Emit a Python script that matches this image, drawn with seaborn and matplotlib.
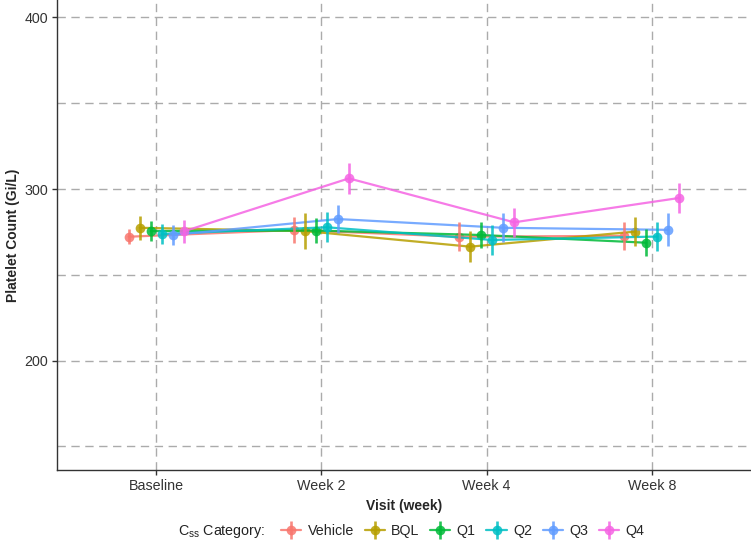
import numpy as np
import pandas as pd
import matplotlib.pyplot as plt
import seaborn as sns
from matplotlib.lines import Line2D

# data
visits = ["Baseline", "Week 2", "Week 4", "Week 8"]
groups = ["Vehicle", "BQL", "Q1", "Q2", "Q3", "Q4"]

vehicle_mean = [272.2, 276.1, 272.2, 272.7]
bql_mean = [277.4, 275.5, 266.4, 275.2]
q1_mean = [275.5, 275.8, 273.2, 268.7]
q2_mean = [273.8, 277.7, 270.3, 272.3]
q3_mean = [273.2, 282.5, 277.4, 276.2]
q4_mean = [275.3, 306.2, 280.6, 294.8]

vehicle_err = [4.5, 7.8, 8.3, 8.3]
bql_err = [7.0, 10.7, 9.0, 8.7]
q1_err = [5.8, 7.3, 7.4, 7.8]
q2_err = [5.8, 8.7, 8.7, 8.4]
q3_err = [6.0, 8.3, 8.5, 9.7]
q4_err = [6.6, 8.9, 8.3, 9.0]

means = [vehicle_mean, bql_mean, q1_mean, q2_mean, q3_mean, q4_mean]
errs = [vehicle_err, bql_err, q1_err, q2_err, q3_err, q4_err]

colors = ["#F8766D", "#B79F00", "#00BA38", "#00BFC4", "#619CFF", "#F564E3"]

rows = []
for g, m, e in zip(groups, means, errs):
    for v, mv, ev in zip(visits, m, e):
        rows.append({"visit": v, "group": g, "count": mv, "err": ev})
df = pd.DataFrame(rows)

sns.set_theme(style="white")
plt.rcParams['font.family'] = ['Liberation Sans', 'DejaVu Sans']
plt.rcParams['mathtext.fontset'] = 'custom'
plt.rcParams['mathtext.rm'] = 'Liberation Sans'

fig = plt.figure(figsize=(7.51, 5.44), dpi=100)
ax = fig.add_axes([57 / 751, 1 - 470 / 544, (751 - 57) / 751, 470 / 544])

sns.pointplot(data=df, x="visit", y="count", hue="group", order=visits,
              hue_order=groups, palette=colors, dodge=0.333, errorbar=None,
              markers="o", markersize=7, linewidth=1.6, markeredgewidth=0,
              alpha=0.85, legend=False, ax=ax)

# error bars at the dodged positions seaborn used
for i, line in enumerate(ax.lines[:len(groups)]):
    xs = line.get_xdata()
    m = np.array(means[i])
    e = np.array(errs[i])
    ax.vlines(xs, m - e, m + e, color=colors[i], lw=1.9, alpha=0.85,
              zorder=line.get_zorder())

ax.set_xlim(-0.6, 3.6)
ax.set_ylim(136.2, 410.2)
ax.set_yticks([200, 300, 400])
ax.set_yticks([150, 250, 350], minor=True)

grid_kw = dict(color="#ABABAB", lw=1.0, linestyle=(0, (6, 4)))
ax.grid(True, which="both", axis="y", **grid_kw)
ax.grid(True, which="major", axis="x", **grid_kw)
ax.set_axisbelow(True)

for s in ["top", "right"]:
    ax.spines[s].set_visible(False)
for s in ["left", "bottom"]:
    ax.spines[s].set_color("#333333")
    ax.spines[s].set_linewidth(1.0)

ax.tick_params(axis="both", which="major", length=3.5, width=1, color="#333333",
               labelsize=10.3, labelcolor="#333333", pad=3, left=True, bottom=True)
ax.tick_params(axis="y", which="minor", length=0)

ax.set_xlabel("Visit (week)", fontsize=10, fontweight="bold", labelpad=4)
ax.set_ylabel("Platelet Count (Gi/L)", fontsize=10, fontweight="bold", labelpad=3)

# legend along the bottom
handles = []
for c in colors:
    h1 = Line2D([], [], color=c, lw=1.6, marker="o", markersize=7,
                markeredgewidth=0, alpha=0.85)
    h2 = Line2D([], [], color=c, lw=0, marker="|", markersize=13,
                markeredgewidth=1.9, alpha=0.85)
    handles.append((h1, h2))

fig.text(265 / 751, 1 - 531 / 544, r"C$_{\rm ss}$ Category:", ha="right",
         va="center", fontsize=10.3, color="#222222")
fig.legend(handles, groups, loc="center left", bbox_to_anchor=(274 / 751, 1 - 531 / 544),
           ncol=6, frameon=False, fontsize=10.3, handlelength=1.4,
           handletextpad=0.45, columnspacing=0.75, borderpad=0)

fig.savefig("out.png", dpi=100)
